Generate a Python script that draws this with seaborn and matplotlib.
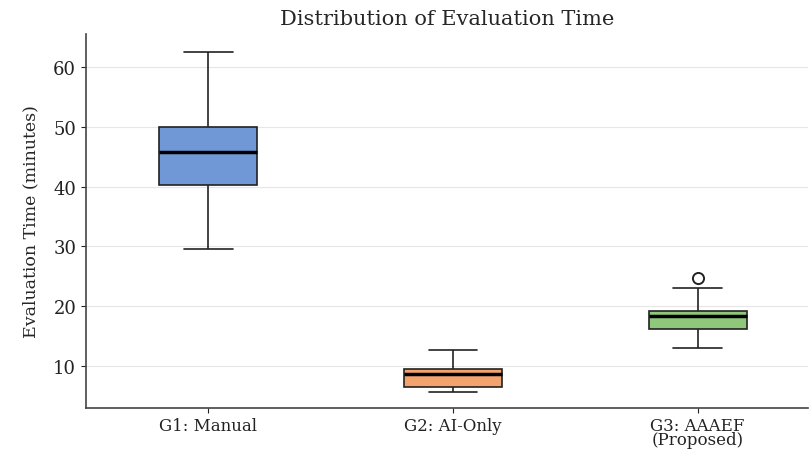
import pandas as pd
import seaborn as sns
import matplotlib.pyplot as plt

groups = ["G1: Manual", "G2: AI-Only", "G3: AAAEF\n(Proposed)"]
g1_times = [29.6, 40.3, 45.8, 49.9, 62.5]
g2_times = [5.7, 6.5, 8.7, 9.5, 12.7]
g3_times = [13.0, 15.0, 16.2, 17.0, 18.4, 18.8, 19.2, 23.0, 24.7]
box_colors = ["#7097d6", "#f2a36e", "#8fc87a"]
y_ticks = [10, 20, 30, 40, 50, 60]

df = pd.DataFrame({
    "group": [groups[0]] * len(g1_times) + [groups[1]] * len(g2_times)
             + [groups[2]] * len(g3_times),
    "time": g1_times + g2_times + g3_times,
})

sns.set_style("ticks")
plt.rcParams["font.family"] = ["DejaVu Serif"]

fig, ax = plt.subplots(figsize=(8.11, 4.52), dpi=100)
fig.subplots_adjust(left=0.106, right=0.996, bottom=0.095, top=0.923)

sns.boxplot(data=df, x="group", y="time", hue="group", order=groups,
            hue_order=groups, palette=box_colors, saturation=1, width=0.4,
            linewidth=1.2, linecolor="#222222", legend=False, ax=ax,
            medianprops=dict(color="black", linewidth=2.5),
            flierprops=dict(marker="o", markerfacecolor="white",
                            markeredgecolor="#222222", markersize=8,
                            markeredgewidth=1.4))

ax.set_xlim(-0.5, 2.45)
ax.set_ylim(3, 65.5)
ax.set_yticks(y_ticks)
ax.yaxis.grid(True, color="#e6e6e6", linewidth=0.8)
ax.set_axisbelow(True)
sns.despine(ax=ax)
for s in ["left", "bottom"]:
    ax.spines[s].set_color("#444444")
    ax.spines[s].set_linewidth(1.2)

ax.set_title("Distribution of Evaluation Time", fontsize=15, pad=7)
ax.set_xlabel("")
ax.set_ylabel("Evaluation Time (minutes)", fontsize=12.5, labelpad=10)
ax.tick_params(axis="y", labelsize=13, colors="#222222")
ax.tick_params(axis="x", labelsize=12, colors="#222222", pad=3)
for lbl in ax.get_xticklabels():
    lbl.set_linespacing(0.8)

fig.savefig("out.png", dpi=100)
